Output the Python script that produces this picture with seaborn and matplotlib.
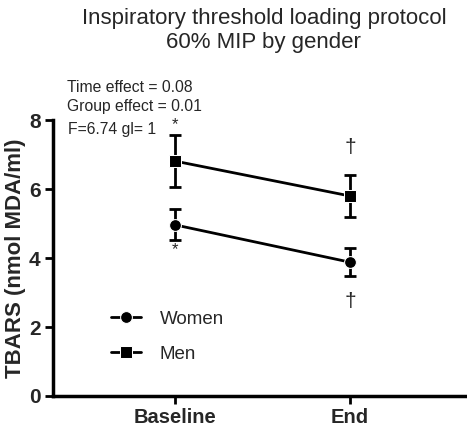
import matplotlib
matplotlib.use("Agg")
import matplotlib.pyplot as plt
import seaborn as sns
import pandas as pd
import numpy as np

timepoints = ["Baseline", "End"]
groups = ["Women", "Men"]
women_mean = [4.96, 3.88]
women_err = [0.45, 0.40]
men_mean = [6.81, 5.80]
men_err = [0.75, 0.60]
stats_lines = ["Time effect = 0.08", "Group effect = 0.01", "F=6.74 gl= 1"]

sns.set_theme(style="ticks")
plt.rcParams['font.family'] = ['Liberation Sans', 'DejaVu Sans']

df = pd.DataFrame({
    "x": [0, 1, 0, 1],
    "TBARS": women_mean + men_mean,
    "group": ["Women", "Women", "Men", "Men"],
})

fig = plt.figure(figsize=(4.67, 4.29), dpi=100)
ax = fig.add_axes([0.1135, 0.077, 0.8865, 0.643])

for g, m, e in [("Women", women_mean, women_err), ("Men", men_mean, men_err)]:
    ax.errorbar([0, 1], m, yerr=e, fmt="none", ecolor="black", elinewidth=2,
                capsize=4.5, capthick=2, zorder=2)

sns.lineplot(data=df, x="x", y="TBARS", style="group", hue="group",
             palette={"Women": "black", "Men": "black"},
             markers={"Women": "o", "Men": "s"}, dashes=False,
             markersize=8.5, linewidth=2, ax=ax, zorder=3, legend=True)

# significance marks
ax.text(0, men_mean[0] + men_err[0] + 0.08, "*", ha="center", va="bottom", fontsize=12)
ax.text(0, women_mean[0] - women_err[0] - 0.05, "*", ha="center", va="top", fontsize=12)
ax.text(1, 7.2, "\u2020", ha="center", va="center", fontsize=15)
ax.text(1, 2.75, "\u2020", ha="center", va="center", fontsize=15)

ax.set_xlim(-0.70, 1.67)
ax.set_ylim(0, 8)
ax.set_xticks([0, 1])
ax.set_xticklabels(timepoints, fontsize=14.5, fontweight="bold")
ax.set_yticks([0, 2, 4, 6, 8])
ax.set_yticklabels(["0", "2", "4", "6", "8"], fontsize=15, fontweight="bold")
ax.set_xlabel("")
ax.set_ylabel("TBARS (nmol MDA/ml)", fontsize=16, fontweight="bold", labelpad=2)
ax.tick_params(axis="both", width=2, length=6, color="black", pad=3)
for s in ["left", "bottom"]:
    ax.spines[s].set_linewidth(2.5)
    ax.spines[s].set_color("black")
sns.despine(ax=ax)

leg = ax.legend(loc="center left", bbox_to_anchor=(0.14, 0.215), frameon=False,
                fontsize=13.5, handlelength=1.6, handletextpad=1.0, labelspacing=0.95,
                borderaxespad=0, borderpad=0)

fig.text(0.565, 0.928, "Inspiratory threshold loading protocol\n60% MIP by gender",
         ha="center", va="center", fontsize=16, linespacing=1.2)
fig.text(0.143, 0.797, stats_lines[0], ha="left", va="center", fontsize=11.3)
fig.text(0.143, 0.751, stats_lines[1], ha="left", va="center", fontsize=11.3)
fig.text(0.146, 0.697, stats_lines[2], ha="left", va="center", fontsize=11.3)

fig.savefig("out.png", dpi=100)
